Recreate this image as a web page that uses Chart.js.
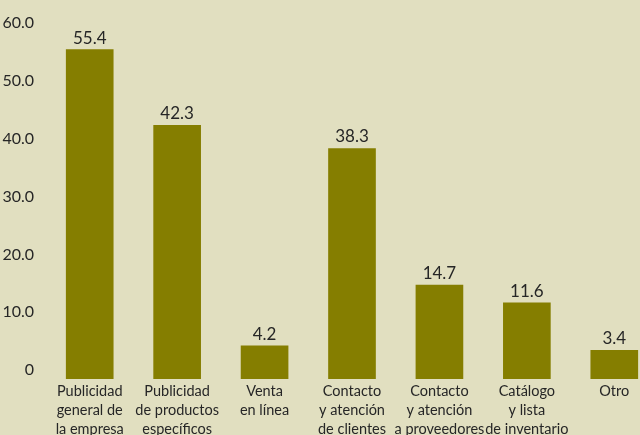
<!DOCTYPE html>
<html>
<head>
<meta charset="utf-8">
<script src="https://cdn.jsdelivr.net/npm/chart.js@4/dist/chart.umd.min.js"></script>
<style>
    html, body { margin: 0; padding: 0; background: #e1dfc0; overflow: hidden; }
    #wrap { width: 680px; height: 435px; position: relative; }
</style>
</head>
<body>
<div id="wrap"><canvas id="usosChart"></canvas></div>
<script>
// categories (multi-line labels) and values
const categories = [
    ['Publicidad', 'general de', 'la empresa'],
    ['Publicidad', 'de productos', 'específicos'],
    ['Venta', 'en línea'],
    ['Contacto', 'y atención', 'de clientes'],
    ['Contacto', 'y atención', 'a proveedores'],
    ['Catálogo', 'y lista', 'de inventario'],
    ['Otro']
];
const values = [55.4, 42.3, 4.2, 38.3, 14.7, 11.6, 3.4];
const yTicks = [0, 10, 20, 30, 40, 50, 60];

const FONT = 'Lato, "Open Sans", sans-serif';
const TEXT = '#262626';

// Draw the value above each bar
const valueLabels = {
    id: 'valueLabels',
    afterDatasetsDraw(chart) {
        const ctx = chart.ctx;
        const meta = chart.getDatasetMeta(0);
        ctx.save();
        ctx.font = '17px ' + FONT;
        ctx.fillStyle = TEXT;
        ctx.textAlign = 'center';
        ctx.textBaseline = 'bottom';
        meta.data.forEach(function (bar, i) {
            ctx.fillText(values[i].toFixed(1), bar.x, bar.y - 3);
        });
        ctx.restore();
    }
};

document.addEventListener('DOMContentLoaded', function () {
    const ctx = document.getElementById('usosChart').getContext('2d');

    new Chart(ctx, {
        type: 'bar',
        data: {
            labels: categories,
            datasets: [{
                data: values,
                base: -1.55,
                backgroundColor: '#857e00',
                barThickness: 47
            }]
        },
        options: {
            responsive: true,
            maintainAspectRatio: false,
            animation: false,
            layout: { padding: { top: 23, right: 22, bottom: 0, left: 0 } },
            plugins: {
                legend: { display: false },
                tooltip: { enabled: false }
            },
            scales: {
                x: {
                    grid: { display: false, drawTicks: false },
                    border: { display: false },
                    afterFit: function (scale) {
                        scale.height = 56;
                    },
                    ticks: {
                        color: TEXT,
                        font: { family: FONT, size: 14.5, lineHeight: 1.3 },
                        padding: 3,
                        maxRotation: 0,
                        autoSkip: false
                    }
                },
                y: {
                    min: -1.55,
                    max: 60,
                    grid: { display: false },
                    border: { display: false },
                    afterBuildTicks: function (scale) {
                        scale.ticks = yTicks.map(function (v) { return { value: v }; });
                    },
                    afterFit: function (scale) {
                        scale.width = 46;
                    },
                    ticks: {
                        color: TEXT,
                        font: { family: FONT, size: 16 },
                        padding: 4,
                        callback: function (v) {
                            return v === 0 ? '0' : v.toFixed(1);
                        }
                    }
                }
            }
        },
        plugins: [valueLabels]
    });
});
</script>
</body>
</html>
